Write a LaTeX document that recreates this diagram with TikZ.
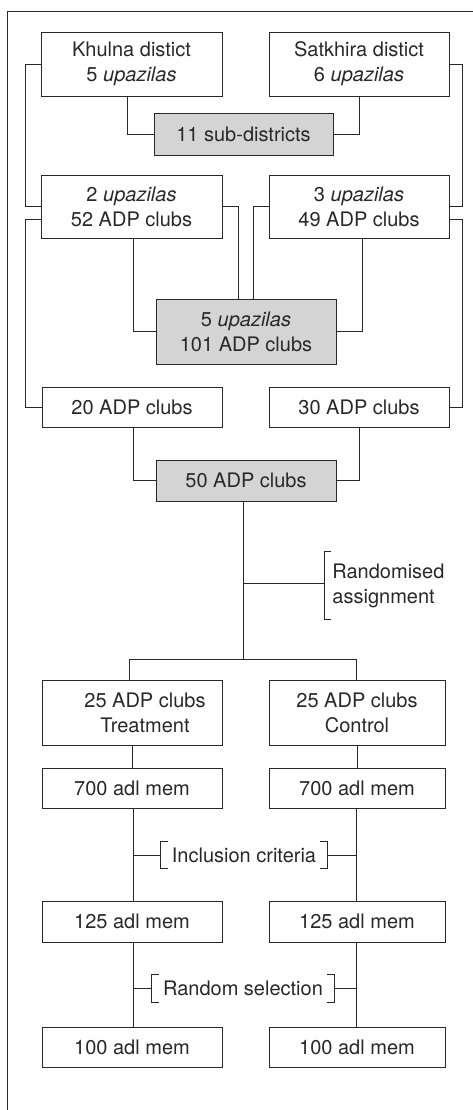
\documentclass[tikz,border=0pt]{standalone}
\usepackage{fontspec}
\setmainfont{TeX Gyre Heros}
\definecolor{boxgrey}{RGB}{212,212,212}
\definecolor{ink}{RGB}{40,40,40}
\begin{document}
\begin{tikzpicture}[x=1pt,y=-1pt,
  line width=0.9pt, draw=ink,
  every node/.style={font=\fontsize{20}{25}\selectfont, text=ink},
  box/.style={draw, inner sep=0pt, minimum width=180pt, align=center},
  greybox/.style={box, fill=boxgrey},
  lbl/.style={inner sep=0pt}]
\useasboundingbox (0,0) rectangle (473,1110);
% frame
\draw (473,11) -- (7,11) -- (7,1110);

% nodes
\node[box, minimum width=181pt, minimum height=64pt] (kh) at (131.5,64) {Khulna distict\\5 \textit{upazilas}};
\node[box, minimum height=64pt] (sa) at (359,64) {Satkhira distict\\6 \textit{upazilas}};
\node[greybox, minimum width=179pt, minimum height=42pt] (sub) at (243.5,134) {11 sub-districts};
\node[box, minimum width=181pt, minimum height=63pt] (up2) at (131.5,206.5) {2 \textit{upazilas}\\52 ADP clubs};
\node[box, minimum height=63pt] (up3) at (359,206.5) {3 \textit{upazilas}\\49 ADP clubs};
\node[greybox, minimum height=65pt] (up5) at (246,331.5) {5 \textit{upazilas}\\101 ADP clubs};
\node[box, minimum height=40pt] (c20) at (132,407) {20 ADP clubs};
\node[box, minimum height=40pt] (c30) at (359,407) {30 ADP clubs};
\node[greybox, minimum height=41pt] (c50) at (246,480.5) {50 ADP clubs};
\node[lbl, anchor=west, minimum height=67pt, inner xsep=8pt, align=left] (rlab) at (324,585.5) {Randomised\\assignment};
\node[box, minimum height=65pt] (tr) at (132,712.5) {\hspace*{26pt}25 ADP clubs\\\hspace*{26pt}Treatment};
\node[box, minimum width=176pt, minimum height=65pt] (co) at (357,712.5) {25 ADP clubs\\Control};
\node[box, minimum height=40pt] (m7l) at (132,788) {700 adl mem};
\node[box, minimum width=176pt, minimum height=40pt] (m7r) at (357,788) {700 adl mem};
\node[lbl, minimum width=166pt, minimum height=26pt] (inc) at (244,855) {Inclusion criteria};
\node[box, minimum height=41pt] (m125l) at (132,921.5) {125 adl mem};
\node[box, minimum width=176pt, minimum height=41pt] (m125r) at (357,921.5) {125 adl mem};
\node[lbl, minimum width=182pt, minimum height=27pt] (rsel) at (243,988.5) {Random selection};
\node[box, minimum height=40pt] (m100l) at (132,1047) {100 adl mem};
\node[box, minimum width=176pt, minimum height=40pt] (m100r) at (357,1047) {100 adl mem};

% connectors: districts to sub-districts
\draw ([xshift=-4.5pt]kh.south) |- (sub.west);
\draw (sa.south) |- (sub.east);
% districts to upazila groups (outer)
\draw (kh.west) -- ++(-15,0) |- (up2.west);
\draw (sa.east) -- ++(13,0) |- (up3.east);
% upazila groups to 5 upazilas
\draw ([xshift=1.5pt]up2.south) |- (up5.west);
\draw ([xshift=3pt]up3.south) |- (up5.east);
\draw (up2.east) -| ([xshift=-8pt]up5.north);
\draw (up3.west) -| ([xshift=7pt]up5.north);
% upazila groups to club samples (outer)
\draw ([yshift=-13pt]up2.west) -- ++(-15,0) |- (c20.west);
\draw ([yshift=-13pt]up3.east) -- ++(13,0) |- (c30.east);
% clubs to 50
\draw ([xshift=1pt]c20.south) |- (c50.west);
\draw (c30.south) |- (c50.east);
% randomisation
\coordinate (sp) at (243,660);
\draw ([xshift=-3pt]c50.south) -- (sp);
\draw ([xshift=-3pt]tr.north) -- ++(0,-20) -| ([xshift=-1pt]co.north);
\draw (sp |- rlab.west) ++(0,-2.5) -- ++(81,0);
\draw ([xshift=7pt]rlab.north west) -- (rlab.north west) -- (rlab.south west) -- ++(7,0);
% arms
\draw (tr.south) -- (m7l.north);
\draw (co.south) -- (m7r.north);
\draw ([xshift=1pt]m7l.south) -- ([xshift=1pt]m125l.north);
\draw ([xshift=-1pt]m7r.south) -- ([xshift=-1pt]m125r.north);
\draw ([xshift=1pt]m125l.south) -- ([xshift=1pt]m100l.north);
\draw ([xshift=-1pt]m125r.south) -- ([xshift=-1pt]m100r.north);
% inclusion criteria bracket
\draw ([xshift=1pt]m7l.south |- inc.west) -- (inc.west);
\draw (inc.east) -- ([xshift=-1pt]m7r.south |- inc.east);
\draw ([xshift=7pt]inc.north west) -- (inc.north west) -- (inc.south west) -- ++(7,0);
\draw ([xshift=-7pt]inc.north east) -- (inc.north east) -- (inc.south east) -- ++(-7,0);
% random selection bracket
\draw ([xshift=1pt]m125l.south |- rsel.west) -- (rsel.west);
\draw (rsel.east) -- ([xshift=-1pt]m125r.south |- rsel.east);
\draw ([xshift=7pt]rsel.north west) -- (rsel.north west) -- (rsel.south west) -- ++(7,0);
\draw ([xshift=-7pt]rsel.north east) -- (rsel.north east) -- (rsel.south east) -- ++(-7,0);
\end{tikzpicture}
\end{document}
